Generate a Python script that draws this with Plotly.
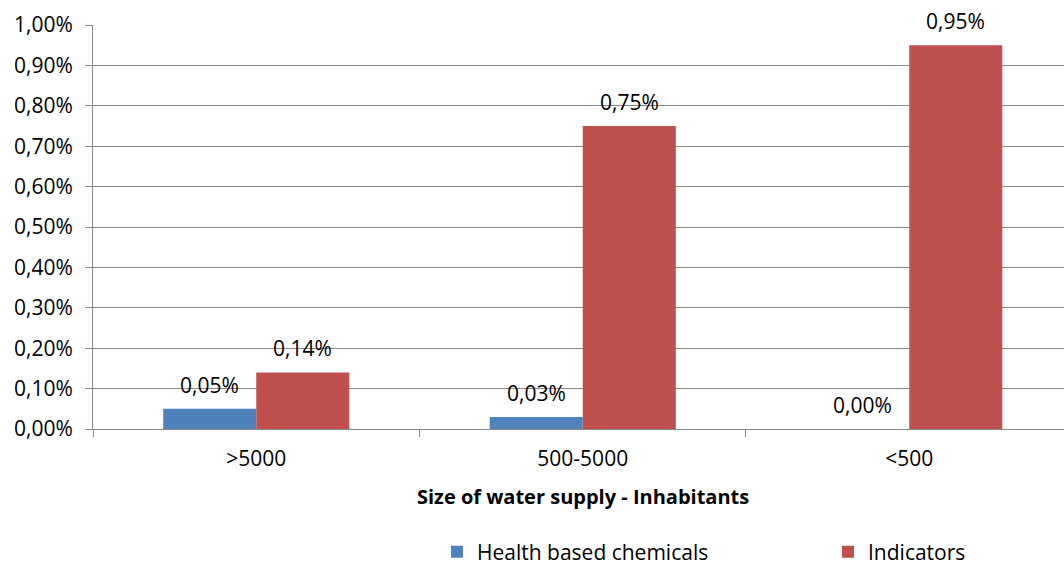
import plotly.graph_objects as go

categories = [">5000", "500-5000", "<500"]
health_based = [0.0005, 0.0003, 0.0000]
indicators = [0.0014, 0.0075, 0.0095]
series_names = ["Health based chemicals", "Indicators"]
colors = ["#4F81BD", "#C0504D"]

FONT = "Open Sans"
FS = 21
fig = go.Figure()
for i, (name, vals, col) in enumerate(zip(series_names, [health_based, indicators], colors)):
    fig.add_trace(go.Bar(x=categories, y=vals, name=name, marker_color=col,
                         marker_line_width=0,
                         legend=("legend" if i == 0 else "legend2")))

# data labels
for k, vals in enumerate([health_based, indicators]):
    for c, v in zip(categories, vals):
        fig.add_annotation(x=c, y=v, xref="x", yref="y",
                           text=f"{v*100:.2f}%".replace(".", ","),
                           showarrow=False, yanchor="middle", yshift=24,
                           xshift=(-46.5 if k == 0 else 46.5),
                           font=dict(family=FONT, size=FS, color="#000"))

fig.add_annotation(x=categories[1], xref="x", y=0, yref="paper",
                   text="<b>Size of water supply - Inhabitants</b>",
                   showarrow=False, yanchor="middle", yshift=-67,
                   font=dict(family=FONT, size=20, color="#000"))

leg_common = dict(orientation="h", xref="container", yref="container",
                  xanchor="left", yanchor="middle", y=1 - 552 / 567,
                  font=dict(family=FONT, size=FS, color="#000"),
                  bgcolor="rgba(0,0,0,0)")
fig.update_layout(
    width=1064, height=567,
    margin=dict(l=93, r=0, t=25, b=138, autoexpand=False),
    plot_bgcolor="white", paper_bgcolor="white",
    separators=",.",
    barmode="group", bargap=0.43, bargroupgap=0,
    font=dict(family=FONT, size=FS, color="#000"),
    showlegend=True,
    legend=dict(x=437 / 1064, **leg_common),
    legend2=dict(x=828 / 1064, **leg_common),
)
fig.update_xaxes(range=[-0.5, 2.474], showline=True, linecolor="#898989", linewidth=1,
                 ticks="outside", tickson="boundaries", ticklen=7, tickcolor="#898989",
                 ticklabelstandoff=11, showgrid=False, fixedrange=True)
fig.update_yaxes(range=[0, 0.01], dtick=0.001, tickformat=".2%", showline=True,
                 linecolor="#898989", linewidth=1, ticks="outside", ticklen=7,
                 tickcolor="#898989", gridcolor="#898989", gridwidth=1,
                 zeroline=False, ticklabelstandoff=8, fixedrange=True)

fig.write_html("out.html", config={"displayModeBar": False},
               post_script="document.body.style.margin='0';document.body.style.overflow='hidden';")
